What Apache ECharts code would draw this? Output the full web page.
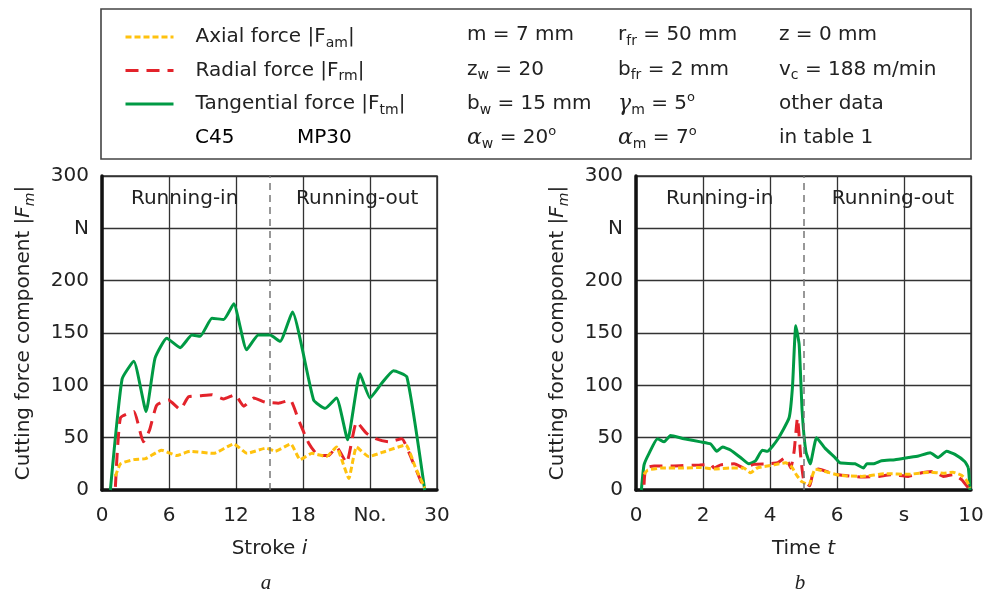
<!DOCTYPE html>
<html><head><meta charset="utf-8">
<script src="https://cdn.jsdelivr.net/npm/echarts@6/dist/echarts.min.js"></script>
<style>html,body{margin:0;padding:0;background:#fff}#c{width:987px;height:595px}</style>
</head><body><div id="c"></div>
<script>
// ---------- data (chart a: stroke i) ----------
const strokeTan = [0.75,1.8,2.85,3.95,4.75,5.8,7.0,8.05,8.8,9.85,10.9,11.8,12.95,14.0,15.05,15.95,17.05,18.95,20.0,21.0,22.0,23.1,24.0,25.05,26.1,27.3,28.9];
const tanStroke = [0,106,123,75,126,145,136,148,147,164,163,178,134,148,148,142,170,86,78,88,48,111,88,102,114,108,0];
const strokeRad = [1.2,1.65,2.85,3.7,4.25,4.9,5.95,7.0,7.75,8.8,9.85,10.9,11.9,12.7,13.6,14.6,15.8,16.85,17.6,18.5,19.4,20.3,21.0,21.9,22.8,23.7,24.5,25.65,26.85,27.75,28.8];
const radStroke = [3,69,75,46,57,81,86,77,89,90,91,87,91,80,88,84,83,86,67,45,33,33,41,26,65,54,49,46,49,29,2];
const strokeAx = [1.2,1.65,2.85,3.9,5.35,6.7,7.9,10.0,11.8,13.0,14.7,15.5,16.9,17.75,18.8,20.1,21.0,21.6,22.1,22.8,23.9,25.4,27.2,28.05,28.9];
const axStroke = [13,25,29,30,38,33,37,35,44,35,40,37,44,29,35,32,41,25,11,41,32,37,43,22,2];

// ---------- data (chart b: time t) ----------
const timeTan = [0.16,0.24,0.39,0.64,0.84,1.03,1.43,1.93,2.23,2.41,2.58,2.83,3.12,3.37,3.57,3.77,3.92,4.22,4.57,4.67,4.77,4.87,4.96,5.07,5.2,5.39,5.64,5.94,6.09,6.54,6.79,6.89,7.08,7.33,7.73,8.13,8.43,8.78,9.02,9.27,9.52,9.82,9.92,9.97];
const tanTime = [0,24,35,49,46,52,49,46,44,37,41,38,31,25,28,38,37,48,69,98,157,139,75,37,25,50,40,31,26,25,21,25,25,28,29,31,32.5,35.6,31,37,34,27,21,0];
const timeRad = [0.24,0.29,0.54,1.13,1.9,2.23,2.33,2.53,2.93,3.22,3.52,3.92,4.22,4.47,4.62,4.72,4.82,4.92,5.01,5.19,5.29,5.44,5.94,6.74,7.24,7.6,8.13,8.53,8.87,9.17,9.47,9.72,9.92];
const radTime = [5,21,23,23,24,24.5,21,24,25,21,24.5,25,26,31,21,37,69,31,9,4,18,20,15,12.4,13,14.6,13,16.5,17.8,13,14.6,10,2];
const timeAx = [0.24,0.35,0.74,1.43,1.93,2.33,2.83,3.22,3.42,3.62,4.12,4.47,4.65,4.8,4.95,5.16,5.35,5.6,6.09,6.74,7.48,8.13,8.78,9.17,9.46,9.72,9.87,9.97];
const axTime = [15,19,21,21,21.6,20,21,21,16.5,21,24,26,22,14,8,5,20,18,14,13,15.6,15,17,16,17,14,9,2];

// ---------- axis / labels ----------
const seriesNames = ['Axial force','Radial force','Tangential force'];
const seriesSubs = ['am','rm','tm'];
const phaseNames = ['Running-in','Running-out'];
const strokeTicks = {24:'No.'};
const timeTicks = {8:'s'};
const forceTicks = {250:'N'};
const strokeSplit = 15;
const timeSplit = 5;

const GREEN = '#009a44', RED = '#e3232b', YELLOW = '#ffc20e';
const FONT = 'DejaVu Sans';
const FS = 20;
const TXT = '#222';

const zip = (xs, ys) => xs.map((x, i) => [x, ys[i]]);

const rich = {
  n: {fontSize: FS, color: TXT, fontFamily: FONT, lineHeight: 26},
  i: {fontSize: FS, color: TXT, fontFamily: FONT, fontStyle: 'italic', lineHeight: 26},
  s: {fontSize: 14, color: TXT, fontFamily: FONT, lineHeight: 13, verticalAlign: 'bottom'},
  si: {fontSize: 14, color: TXT, fontFamily: FONT, fontStyle: 'italic', lineHeight: 13, verticalAlign: 'bottom'},
  p: {fontSize: 13, color: TXT, fontFamily: FONT, lineHeight: 13, verticalAlign: 'top'},
  g: {fontSize: 22, color: TXT, fontFamily: 'DejaVu Serif', fontStyle: 'italic', lineHeight: 26}
};

function xAxisCfg(grid, max, interval, ticks, nameTxt) {
  return {
    type: 'value', gridIndex: grid, min: 0, max: max, interval: interval,
    axisLine: {show: true, onZero: false, lineStyle: {color: '#111', width: 3.5}},
    axisTick: {show: false},
    splitLine: {show: true, lineStyle: {color: '#333', width: 1.3}},
    axisLabel: {fontSize: FS, color: TXT, fontFamily: FONT, margin: 16,
      formatter: v => (ticks[v] !== undefined ? ticks[v] : String(v))},
    name: nameTxt, nameLocation: 'middle', nameGap: 46,
    nameTextStyle: {rich: rich}
  };
}
function yAxisCfg(grid) {
  return {
    type: 'value', gridIndex: grid, min: 0, max: 300, interval: 50,
    axisLine: {show: true, onZero: false, lineStyle: {color: '#111', width: 3.5}},
    axisTick: {show: false},
    splitLine: {show: true, lineStyle: {color: '#333', width: 1.3}},
    axisLabel: {fontSize: FS, color: TXT, fontFamily: FONT, margin: 13,
      formatter: v => (forceTicks[v] !== undefined ? forceTicks[v] : String(v))},
    name: '{n|Cutting force component |}{i|F}{si|m}{n||}',
    nameLocation: 'middle', nameRotate: 90, nameGap: 65,
    nameTextStyle: {rich: rich}
  };
}

function lineSeries(name, grid, data, color, dash, extra) {
  return Object.assign({
    name: name, type: 'line', xAxisIndex: grid, yAxisIndex: grid,
    data: data, symbol: 'none', smooth: 0.15, clip: true,
    lineStyle: {color: color, width: 3, type: dash},
    itemStyle: {color: color}
  }, extra || {});
}

function divider(xv, inPos, outPos) {
  return {
    markLine: {
      silent: true, symbol: ['none', 'none'], label: {show: false},
      lineStyle: {color: '#777', width: 1.5, type: [7, 5]},
      data: [{xAxis: xv}]
    },
    markPoint: {
      silent: true, symbol: 'rect', symbolSize: 1,
      itemStyle: {color: 'rgba(0,0,0,0)'},
      label: {show: true, position: 'inside', formatter: '{b}', fontSize: FS, color: TXT, fontFamily: FONT},
      data: [{name: phaseNames[0], coord: inPos}, {name: phaseNames[1], coord: outPos}]
    }
  };
}

const chart = echarts.init(document.getElementById('c'), null, {renderer: 'canvas'});

const paramCols = [
  {x: 467, rows: ['{n|m = 7 mm}', '{n|z}{s|w}{n| = 20}', '{n|b}{s|w}{n| = 15 mm}', '{g|α}{s|w}{n| = 20}{p|o}']},
  {x: 618, rows: ['{n|r}{s|fr}{n| = 50 mm}', '{n|b}{s|fr}{n| = 2 mm}', '{g|γ}{s|m}{n| = 5}{p|o}', '{g|α}{s|m}{n| = 7}{p|o}']},
  {x: 779, rows: ['{n|z = 0 mm}', '{n|v}{s|c}{n| = 188 m/min}', '{n|other data}', '{n|in table 1}']}
];
const rowY = [35, 69.5, 104, 138];

const graphics = [
  {type: 'rect', shape: {x: 101, y: 9, width: 870, height: 150},
   style: {fill: 'none', stroke: '#444', lineWidth: 1.6}, silent: true}
];
paramCols.forEach(col => col.rows.forEach((t, k) => {
  graphics.push({type: 'text', x: col.x, y: rowY[k], silent: true,
    style: {text: t, rich: rich, fontSize: FS, fontFamily: FONT, fill: TXT, align: 'left', verticalAlign: 'middle'}});
}));
graphics.push({type: 'text', x: 195, y: rowY[3], silent: true,
  style: {text: '{n|C45}', rich: rich, align: 'left', verticalAlign: 'middle'}});
graphics.push({type: 'text', x: 297, y: rowY[3], silent: true,
  style: {text: '{n|MP30}', rich: rich, align: 'left', verticalAlign: 'middle'}});
graphics.push({type: 'text', x: 266, y: 583, silent: true,
  style: {text: 'a', font: 'italic 21px "Liberation Serif"', fill: TXT, align: 'center', verticalAlign: 'middle'}});
graphics.push({type: 'text', x: 800, y: 583, silent: true,
  style: {text: 'b', font: 'italic 21px "Liberation Serif"', fill: TXT, align: 'center', verticalAlign: 'middle'}});

const option = {
  animation: false,
  backgroundColor: '#fff',
  textStyle: {fontFamily: FONT},
  grid: [
    {left: 102, top: 176, width: 335, height: 314, show: true, borderColor: '#333', borderWidth: 1.5, containLabel: false},
    {left: 636, top: 176, width: 335, height: 314, show: true, borderColor: '#333', borderWidth: 1.5, containLabel: false}
  ],
  xAxis: [
    xAxisCfg(0, 30, 6, strokeTicks, '{n|Stroke }{i|i}'),
    xAxisCfg(1, 10, 2, timeTicks, '{n|Time }{i|t}')
  ],
  yAxis: [yAxisCfg(0), yAxisCfg(1)],
  legend: {
    data: seriesNames, orient: 'vertical', left: 119, top: 22,
    itemWidth: 48, itemHeight: 14, itemGap: 10.5,
    itemStyle: {opacity: 0}, lineStyle: {width: 3},
    selectedMode: false,
    formatter: name => '{n|' + name + ' |F}{s|' + seriesSubs[seriesNames.indexOf(name)] + '}{n||}',
    textStyle: {rich: rich, padding: [0, 0, 0, 17]}
  },
  graphic: graphics,
  series: [
    lineSeries(seriesNames[2], 0, zip(strokeTan, tanStroke), GREEN, 'solid', divider(strokeSplit, [7.4, 278], [22.85, 278])),
    lineSeries(seriesNames[1], 0, zip(strokeRad, radStroke), RED, [13, 8]),
    lineSeries(seriesNames[0], 0, zip(strokeAx, axStroke), YELLOW, [6, 3]),
    lineSeries(seriesNames[2], 1, zip(timeTan, tanTime), GREEN, 'solid', divider(timeSplit, [2.5, 278], [7.67, 278])),
    lineSeries(seriesNames[1], 1, zip(timeRad, radTime), RED, [13, 8]),
    lineSeries(seriesNames[0], 1, zip(timeAx, axTime), YELLOW, [6, 3])
  ]
};
chart.setOption(option);
</script></body></html>
